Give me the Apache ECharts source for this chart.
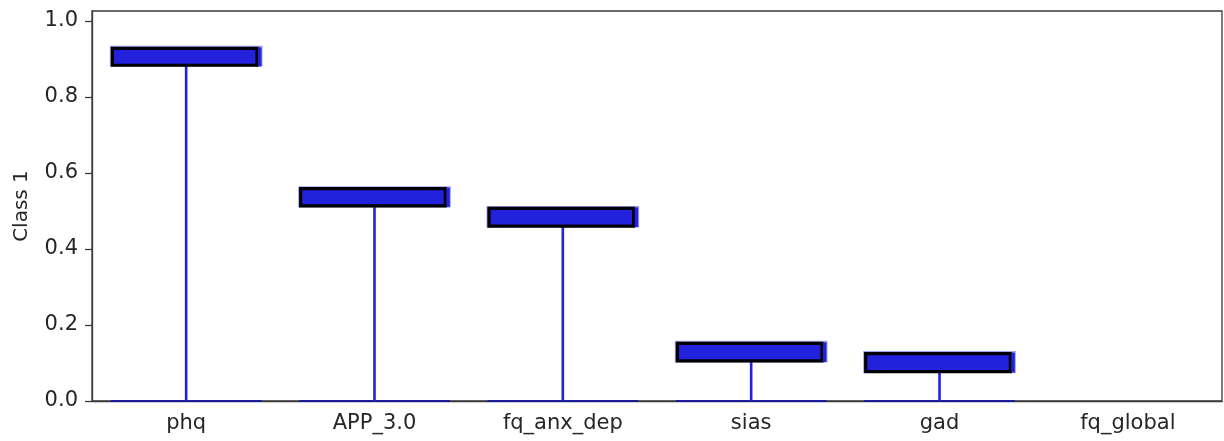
<!DOCTYPE html>
<html>
<head>
<meta charset="utf-8">
<script src="https://cdn.jsdelivr.net/npm/echarts@6/dist/echarts.min.js"></script>
<style>html,body{margin:0;padding:0;background:#fff}#c{width:1224px;height:441px}</style>
</head>
<body>
<div id="c"></div>
<script>
var categories = ['phq', 'APP_3.0', 'fq_anx_dep', 'sias', 'gad', 'fq_global'];
var lowValues  = [0.882, 0.512, 0.459, 0.104, 0.076, null];
var highValues = [0.929, 0.560, 0.508, 0.153, 0.126, null];
var yTicks = [0, 0.2, 0.4, 0.6, 0.8, 1.0];

var data = categories.map(function (c, i) {
  return [i, lowValues[i], highValues[i]];
});

var FILL = '#2222dd';
var chart = echarts.init(document.getElementById('c'));
chart.setOption({
  animation: false,
  grid: { left: 92, right: 2, top: 11, bottom: 40, show: true, borderColor: '#3a3a3a', borderWidth: 1.3, backgroundColor: 'transparent' },
  xAxis: {
    type: 'category', data: categories,
    axisLine: { lineStyle: { color: '#3a3a3a', width: 1.3 } },
    axisTick: { alignWithLabel: true, length: 7, lineStyle: { color: '#3a3a3a', width: 1.3 } },
    axisLabel: { color: '#262626', fontFamily: 'DejaVu Sans', fontSize: 21, margin: 12 },
    splitLine: { show: false }
  },
  yAxis: {
    type: 'value', min: 0, max: 1.026, interval: 0.2,
    name: 'Class 1', nameLocation: 'middle', nameGap: 60,
    nameTextStyle: { color: '#262626', fontFamily: 'DejaVu Sans', fontSize: 20 },
    axisLine: { show: true, lineStyle: { color: '#3a3a3a', width: 1.3 } },
    axisTick: { show: true, length: 7, lineStyle: { color: '#3a3a3a', width: 1.3 } },
    axisLabel: { color: '#262626', fontFamily: 'DejaVu Sans', fontSize: 21, margin: 14, showMaxLabel: false,
      formatter: function (v) { return Math.abs(v * 5 - Math.round(v * 5)) < 1e-6 && yTicks.indexOf(Math.round(v * 10) / 10) >= 0 ? v.toFixed(1) : ''; } },
    splitLine: { show: false }
  },
  series: [{
    type: 'custom',
    data: data,
    encode: { x: 0, y: [1, 2] },
    renderItem: function (params, api) {
      var lo = api.value(1), hi = api.value(2);
      if (lo == null || isNaN(lo)) return { type: 'group', children: [] };
      var bw = api.size([1, 0])[0] * 0.8;
      var p0 = api.coord([api.value(0), 0]);
      var pLo = api.coord([api.value(0), lo]);
      var pHi = api.coord([api.value(0), hi]);
      var x0 = p0[0] - bw / 2;
      return {
        type: 'group',
        children: [
          { type: 'line', shape: { x1: x0, y1: p0[1], x2: x0 + bw, y2: p0[1] },
            style: { stroke: '#1c1c9a', lineWidth: 2 } },
          { type: 'line', shape: { x1: p0[0], y1: p0[1], x2: pLo[0], y2: pLo[1] },
            style: { stroke: FILL, lineWidth: 2.6 } },
          { type: 'rect', shape: { x: x0 - 1, y: pHi[1] - 2, width: bw + 2, height: pLo[1] - pHi[1] + 3 },
            style: { fill: 'rgba(70,70,235,0.5)' } },
          { type: 'rect', shape: { x: x0 + 1.5, y: pHi[1] + 0.5, width: bw - 6, height: pLo[1] - pHi[1] - 1 },
            style: { fill: FILL, stroke: '#000', lineWidth: 3.2 } },
          { type: 'rect', shape: { x: x0 + bw - 3.5, y: pHi[1] - 0.5, width: 3.5, height: pLo[1] - pHi[1] + 1 },
            style: { fill: FILL } }
        ]
      };
    }
  }]
});
</script>
</body>
</html>
